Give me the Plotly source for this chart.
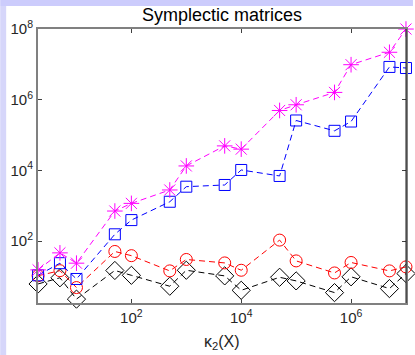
import plotly.graph_objects as go

# Data
kappa = [2, 5, 10, 50, 100, 500, 1e3, 5e3, 1e4, 5e4, 1e5, 5e5, 1e6, 5e6, 1e7]
series_magenta = [15.4, 46.6, 23.8, 710, 1170, 2800, 13400, 49500, 40000, 4.97e5, 7.2e5, 1.61e6, 9.8e6, 2.2e7, 1.0e8]
series_blue = [10.8, 23.8, 8.5, 156, 394, 1300, 3470, 3880, 10300, 6980, 2.59e5, 1.32e5, 2.42e5, 8.47e6, 7.9e6]
series_red = [10.5, 14.6, 4.86, 51, 38.8, 14.4, 30.3, 24.2, 15, 107, 27.6, 12.6, 24.9, 14.4, 18.7]
series_black = [6.15, 9.2, 2.29, 14.8, 10.8, 5.3, 15, 10.4, 4.07, 9.5, 7.5, 3.5, 9.8, 4.55, 12.1]

x_tickvals = [1e2, 1e4, 1e6]
x_ticktext = ["10<sup>2</sup>", "10<sup>4</sup>", "10<sup>6</sup>"]
y_tickvals = [1e2, 1e4, 1e6, 1e8]
y_ticktext = ["10<sup>2</sup>", "10<sup>4</sup>", "10<sup>6</sup>", "10<sup>8</sup>"]

FONT = "Liberation Sans, Arial, Helvetica, sans-serif"
DASH = "6px,4px"

fig = go.Figure()

def add(y, color, symbol, size):
    fig.add_trace(go.Scatter(
        x=kappa, y=y, mode="lines+markers",
        line=dict(color=color, width=1, dash=DASH),
        marker=dict(symbol=symbol, size=size, color=color,
                    line=dict(color=color, width=1)),
        showlegend=False, cliponaxis=False,
    ))

add(series_black, "#000000", "diamond-open", 14)
add(series_red, "#ff0000", "circle-open", 12)
add(series_blue, "#0000ff", "square-open", 11)
add(series_magenta, "#ff00ff", "asterisk-open", 13)

W, H = 415, 355
L, R, T, B = 38, 7, 29, 52
pw, ph = W - L - R, H - T - B

def px_x(p):
    return (p - L) / pw

def px_y(p):
    return (H - B - p) / ph

lav = "#ccccfc"
shapes = [
    dict(type="rect", xref="paper", yref="paper", x0=px_x(0), x1=px_x(W), y0=px_y(0), y1=px_y(6),
         fillcolor=lav, line=dict(width=0), layer="below"),
    dict(type="rect", xref="paper", yref="paper", x0=px_x(0), x1=px_x(6), y0=px_y(6), y1=px_y(H),
         fillcolor="#d6d6fa", line=dict(width=0), layer="below"),
    dict(type="line", xref="paper", yref="paper", x0=1, x1=1, y0=0, y1=1,
         line=dict(color="#1a1a1a", width=1), layer="above"),
]

fig.update_layout(
    width=W, height=H,
    margin=dict(l=L, r=R, t=T, b=B, pad=0),
    paper_bgcolor="white", plot_bgcolor="white",
    font=dict(family=FONT, size=15, color="#262626"),
    title=dict(text="Symplectic matrices", x=0.5, xref="paper", xanchor="center",
               y=1 - 15 / H, yref="container", yanchor="middle",
               font=dict(family=FONT, size=18, color="#000000")),
    shapes=shapes,
    annotations=[dict(text="κ<sub>2</sub>(X)", xref="paper", yref="paper",
                      x=0.5, y=px_y(342), xanchor="center", yanchor="middle",
                      showarrow=False, font=dict(family=FONT, size=16, color="#262626"))],
    xaxis=dict(type="log", range=[0.2995, 7.0005], tickvals=x_tickvals, ticktext=x_ticktext,
               ticks="inside", ticklen=4, tickcolor="#404040", tickwidth=1,
               showline=True, linecolor="#808080", linewidth=2, mirror="ticks",
               showgrid=False, zeroline=False, tickfont=dict(size=15)),
    yaxis=dict(type="log", range=[0.25, 8.001], tickvals=y_tickvals, ticktext=y_ticktext,
               ticks="inside", ticklen=4, tickcolor="#404040", tickwidth=1,
               showline=True, linecolor="#808080", linewidth=2, mirror="ticks",
               showgrid=False, zeroline=False, tickfont=dict(size=15)),
)

fig.write_html("out.html")
